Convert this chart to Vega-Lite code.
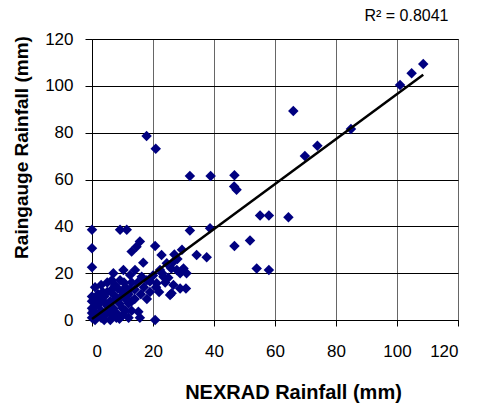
{
  "$schema": "https://vega.github.io/schema/vega-lite/v6.json",
  "width": 366,
  "height": 281,
  "autosize": {"type": "none"},
  "padding": {"left": 92, "top": 39, "right": 19, "bottom": 85},
  "background": "white",
  "config": {
    "font": "Liberation Sans",
    "view": {"stroke": "black", "strokeWidth": 1}
  },
  "title": {
    "text": "R² = 0.8041",
    "anchor": "end",
    "fontSize": 16,
    "fontWeight": "normal",
    "color": "black",
    "font": "Liberation Sans",
    "dx": -10,
    "offset": 6
  },
  "datasets": {
    "pts": [
      {"nexrad": 17.9, "gauge": 78.6}, {"nexrad": 20.9, "gauge": 73.1},
      {"nexrad": 32.1, "gauge": 61.5}, {"nexrad": 38.9, "gauge": 61.5},
      {"nexrad": 46.7, "gauge": 61.8}, {"nexrad": 46.6, "gauge": 57.0},
      {"nexrad": 47.4, "gauge": 55.6}, {"nexrad": 66.0, "gauge": 89.3},
      {"nexrad": 69.8, "gauge": 70.0}, {"nexrad": 73.9, "gauge": 74.4},
      {"nexrad": 84.9, "gauge": 81.6}, {"nexrad": 101.0, "gauge": 100.4},
      {"nexrad": 104.8, "gauge": 105.4}, {"nexrad": 108.6, "gauge": 109.3},
      {"nexrad": 55.1, "gauge": 44.6}, {"nexrad": 58.0, "gauge": 44.6},
      {"nexrad": 64.4, "gauge": 43.9}, {"nexrad": 54.0, "gauge": 22.0},
      {"nexrad": 58.0, "gauge": 21.4}, {"nexrad": 46.7, "gauge": 31.6},
      {"nexrad": 51.8, "gauge": 33.9}, {"nexrad": 32.1, "gauge": 38.2},
      {"nexrad": 38.7, "gauge": 39.2}, {"nexrad": 34.3, "gauge": 27.8},
      {"nexrad": 37.6, "gauge": 26.8}, {"nexrad": 0.0, "gauge": 38.5},
      {"nexrad": 0.0, "gauge": 30.6}, {"nexrad": 0.0, "gauge": 22.5},
      {"nexrad": 9.2, "gauge": 38.5}, {"nexrad": 11.4, "gauge": 38.5},
      {"nexrad": 15.7, "gauge": 33.5}, {"nexrad": 13.0, "gauge": 29.2},
      {"nexrad": 14.6, "gauge": 31.3}, {"nexrad": 16.8, "gauge": 24.5},
      {"nexrad": 20.7, "gauge": 31.6}, {"nexrad": 22.8, "gauge": 27.8},
      {"nexrad": 25.6, "gauge": 10.7}, {"nexrad": 30.8, "gauge": 13.5},
      {"nexrad": 20.7, "gauge": 0.0}, {"nexrad": 15.7, "gauge": 1.0},
      {"nexrad": 15.2, "gauge": 3.5}, {"nexrad": 28.9, "gauge": 20.0},
      {"nexrad": 24.5, "gauge": 24.2}, {"nexrad": 29.4, "gauge": 21.0},
      {"nexrad": 26.1, "gauge": 11.4}, {"nexrad": 7.0, "gauge": 20.0},
      {"nexrad": 10.3, "gauge": 21.4}, {"nexrad": 6.5, "gauge": 17.0},
      {"nexrad": 9.2, "gauge": 17.0}, {"nexrad": 12.5, "gauge": 19.2},
      {"nexrad": 14.1, "gauge": 21.4}, {"nexrad": 16.3, "gauge": 18.5},
      {"nexrad": 19.0, "gauge": 16.4}, {"nexrad": 22.3, "gauge": 21.4},
      {"nexrad": 26.7, "gauge": 24.9}, {"nexrad": 27.8, "gauge": 21.4},
      {"nexrad": 23.4, "gauge": 18.5}, {"nexrad": 21.2, "gauge": 15.7},
      {"nexrad": 26.7, "gauge": 15.0}, {"nexrad": 28.9, "gauge": 13.5},
      {"nexrad": 0.0, "gauge": 10.0}, {"nexrad": 0.0, "gauge": 8.0},
      {"nexrad": 0.0, "gauge": 5.0}, {"nexrad": 0.0, "gauge": 3.0},
      {"nexrad": 0.0, "gauge": 1.0}, {"nexrad": 1.0, "gauge": 0.0},
      {"nexrad": 2.0, "gauge": 2.0}, {"nexrad": 1.0, "gauge": 6.0},
      {"nexrad": 3.0, "gauge": 4.0}, {"nexrad": 3.0, "gauge": 8.0},
      {"nexrad": 2.0, "gauge": 11.0}, {"nexrad": 4.0, "gauge": 10.0},
      {"nexrad": 5.0, "gauge": 6.0}, {"nexrad": 5.0, "gauge": 12.0},
      {"nexrad": 4.0, "gauge": 2.0}, {"nexrad": 6.0, "gauge": 3.0},
      {"nexrad": 6.0, "gauge": 8.0}, {"nexrad": 7.0, "gauge": 11.0},
      {"nexrad": 7.0, "gauge": 5.0}, {"nexrad": 8.0, "gauge": 9.0},
      {"nexrad": 8.0, "gauge": 3.0}, {"nexrad": 9.0, "gauge": 7.0},
      {"nexrad": 10.0, "gauge": 12.0}, {"nexrad": 10.0, "gauge": 5.0},
      {"nexrad": 11.0, "gauge": 9.0}, {"nexrad": 11.0, "gauge": 14.0},
      {"nexrad": 12.0, "gauge": 7.0}, {"nexrad": 12.0, "gauge": 11.0},
      {"nexrad": 13.0, "gauge": 16.0}, {"nexrad": 13.0, "gauge": 4.0},
      {"nexrad": 14.0, "gauge": 9.0}, {"nexrad": 14.0, "gauge": 13.0},
      {"nexrad": 15.0, "gauge": 16.0}, {"nexrad": 16.0, "gauge": 11.0},
      {"nexrad": 17.0, "gauge": 14.0}, {"nexrad": 18.0, "gauge": 9.0},
      {"nexrad": 18.0, "gauge": 17.0}, {"nexrad": 19.0, "gauge": 12.0},
      {"nexrad": 20.0, "gauge": 19.0}, {"nexrad": 21.0, "gauge": 14.0},
      {"nexrad": 22.0, "gauge": 12.0}, {"nexrad": 23.0, "gauge": 20.0},
      {"nexrad": 24.0, "gauge": 16.0}, {"nexrad": 25.0, "gauge": 18.0},
      {"nexrad": 26.0, "gauge": 22.0}, {"nexrad": 27.0, "gauge": 28.0},
      {"nexrad": 28.0, "gauge": 26.0}, {"nexrad": 29.5, "gauge": 30.0},
      {"nexrad": 30.0, "gauge": 22.0}, {"nexrad": 31.0, "gauge": 20.0},
      {"nexrad": 1.0, "gauge": 14.0}, {"nexrad": 3.0, "gauge": 15.0},
      {"nexrad": 5.0, "gauge": 16.0}, {"nexrad": 7.5, "gauge": 15.0},
      {"nexrad": 8.5, "gauge": 13.5}, {"nexrad": 2.0, "gauge": 6.5},
      {"nexrad": 4.0, "gauge": 0.0}, {"nexrad": 6.0, "gauge": 0.0},
      {"nexrad": 8.0, "gauge": 1.0}, {"nexrad": 10.0, "gauge": 2.0},
      {"nexrad": 12.0, "gauge": 1.0}, {"nexrad": 3.0, "gauge": 1.0},
      {"nexrad": 5.0, "gauge": 3.0}, {"nexrad": 7.0, "gauge": 2.0},
      {"nexrad": 9.0, "gauge": 0.5}, {"nexrad": 11.0, "gauge": 4.0},
      {"nexrad": 13.0, "gauge": 8.0}, {"nexrad": 0.5, "gauge": 4.0},
      {"nexrad": 1.5, "gauge": 9.0}, {"nexrad": 2.5, "gauge": 3.0},
      {"nexrad": 3.5, "gauge": 12.0}, {"nexrad": 4.5, "gauge": 7.0},
      {"nexrad": 6.5, "gauge": 13.0}, {"nexrad": 9.5, "gauge": 10.0},
      {"nexrad": 10.5, "gauge": 16.0}, {"nexrad": 12.5, "gauge": 13.0}
    ],
    "trend": [
      {"nexrad": 0.0, "gauge": 0.4},
      {"nexrad": 108.6, "gauge": 104.7}
    ]
  },
  "layer": [
    {
      "data": {"name": "pts"},
      "mark": {"type": "point", "shape": "diamond", "filled": true, "color": "#000080", "opacity": 1, "size": 110},
      "encoding": {
        "x": {
          "field": "nexrad", "type": "quantitative",
          "scale": {"domain": [0, 120], "nice": false, "zero": true},
          "axis": {
            "values": [0, 20, 40, 60, 80, 100, 120],
            "title": "NEXRAD Rainfall (mm)",
            "titleFontSize": 20, "titleFontWeight": "bold", "titleColor": "black",
            "titleFont": "Liberation Sans",
            "titleX": 201, "titleY": 72, "titleBaseline": "middle",
            "labelFontSize": 17, "labelColor": "black", "labelFont": "Liberation Sans",
            "labelPadding": 17, "tickSize": 6, "tickColor": "black",
            "domainColor": "black",
            "grid": true, "gridColor": "#666666", "gridOpacity": 1
          }
        },
        "y": {
          "field": "gauge", "type": "quantitative",
          "scale": {"domain": [0, 120], "nice": false, "zero": true},
          "axis": {
            "values": [0, 20, 40, 60, 80, 100, 120],
            "title": "Raingauge Rainfall (mm)",
            "titleFontSize": 19, "titleFontWeight": "bold", "titleColor": "black",
            "titleFont": "Liberation Sans",
            "titleX": -71, "titleY": 108, "titleBaseline": "middle", "titleAngle": -90,
            "labelFontSize": 17, "labelColor": "black", "labelFont": "Liberation Sans",
            "labelPadding": 12, "tickSize": 7, "tickColor": "black",
            "domainColor": "black",
            "grid": true, "gridColor": "black", "gridOpacity": 1
          }
        }
      }
    },
    {
      "data": {"name": "trend"},
      "mark": {"type": "line", "color": "black", "strokeWidth": 2.5},
      "encoding": {
        "x": {"field": "nexrad", "type": "quantitative"},
        "y": {"field": "gauge", "type": "quantitative"}
      }
    }
  ]
}
